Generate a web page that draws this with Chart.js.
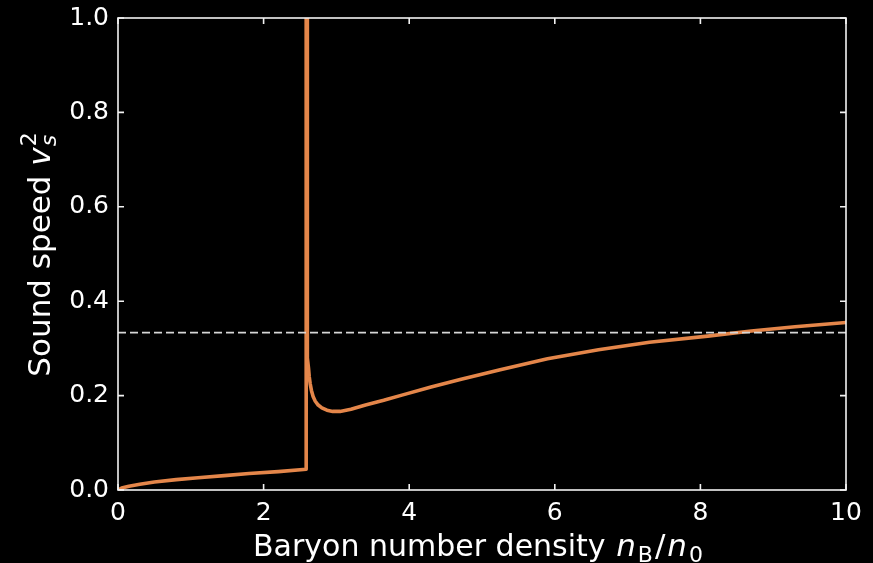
<!DOCTYPE html>
<html>
<head>
<meta charset="utf-8">
<script src="https://cdn.jsdelivr.net/npm/chart.js@4.4.1/dist/chart.umd.min.js"></script>
<style>
  html, body { margin: 0; padding: 0; background: #000; }
  #wrap { width: 873px; height: 563px; }
</style>
</head>
<body>
<div id="wrap"><canvas id="c" width="873" height="563"></canvas></div>
<script>
// Hadronic branch (below the transition density)
const lowDensity = [0, 0.05, 0.15, 0.3, 0.5, 0.8, 1.1, 1.5, 1.8, 2.2, 2.585];
const lowSound   = [0, 0.004, 0.008, 0.012, 0.017, 0.022, 0.026, 0.031, 0.035, 0.039, 0.044];

// Vertical jump at the transition
const jumpDensity = [2.585, 2.585, 2.597];
const jumpSound   = [0.044, 1.05, 1.05];

// High-density branch
const highDensity = [2.597, 2.597, 2.599, 2.603, 2.609, 2.617, 2.627, 2.640, 2.657, 2.68, 2.71, 2.75, 2.80, 2.87, 2.95, 3.05, 3.2, 3.4, 3.65, 3.9, 4.3, 4.7, 5.25, 5.9, 6.6, 7.3, 8.1, 8.7, 9.3, 10];
const highSound   = [1.05, 0.40, 0.35, 0.31, 0.28, 0.258, 0.240, 0.225, 0.211, 0.198, 0.188, 0.180, 0.174, 0.169, 0.1665, 0.1665, 0.171, 0.180, 0.190, 0.201, 0.218, 0.234, 0.255, 0.278, 0.297, 0.313, 0.326, 0.337, 0.346, 0.355];

// Conformal limit v_s^2 = 1/3
const conformalDensity = [0, 10];
const conformalSound   = [1 / 3, 1 / 3];

const xTickValues = [0, 2, 4, 6, 8, 10];
const yTickValues = [0, 0.2, 0.4, 0.6, 0.8, 1.0];

const curveDensity = lowDensity.concat(jumpDensity, highDensity);
const curveSound   = lowSound.concat(jumpSound, highSound);

const toPoints = (xs, ys) => xs.map((x, i) => ({ x: x, y: ys[i] }));

const FRAME = '#f2f2f2';
const TEXT = '#ffffff';
const FONT = "'DejaVu Sans', sans-serif";

const background = {
  id: 'background',
  beforeDraw(chart) {
    const ctx = chart.ctx;
    ctx.save();
    ctx.fillStyle = '#000';
    ctx.fillRect(0, 0, chart.width, chart.height);
    ctx.restore();
  }
};

// Box frame with inward ticks on all four sides
const frame = {
  id: 'frame',
  afterDatasetsDraw(chart) {
    const { ctx, chartArea: a, scales } = chart;
    const len = 6;
    ctx.save();
    ctx.strokeStyle = FRAME;
    ctx.lineWidth = 1.6;
    ctx.beginPath();
    xTickValues.forEach(v => {
      const px = scales.x.getPixelForValue(v);
      ctx.moveTo(px, a.bottom); ctx.lineTo(px, a.bottom - len);
      ctx.moveTo(px, a.top); ctx.lineTo(px, a.top + len);
    });
    yTickValues.forEach(v => {
      const py = scales.y.getPixelForValue(v);
      ctx.moveTo(a.left, py); ctx.lineTo(a.left + len, py);
      ctx.moveTo(a.right, py); ctx.lineTo(a.right - len, py);
    });
    ctx.stroke();
    ctx.strokeRect(a.left, a.top, a.right - a.left, a.bottom - a.top);
    ctx.restore();
  }
};

// Draw a run of text segments, each with its own style, vertical shift and trailing gap
function drawRuns(ctx, runs, x, y) {
  const widths = runs.map(r => { ctx.font = r.font; return ctx.measureText(r.text).width + (r.gap || 0); });
  const total = widths.reduce((s, w) => s + w, 0);
  let cx = x - total / 2;
  runs.forEach((r, i) => {
    ctx.font = r.font;
    ctx.fillText(r.text, cx, y + (r.dy || 0));
    cx += widths[i];
  });
}

const titles = {
  id: 'titles',
  afterDraw(chart) {
    const { ctx, chartArea: a } = chart;
    const size = 30;
    const mathSize = 31;
    const sub = 22;
    ctx.save();
    ctx.fillStyle = TEXT;
    ctx.textBaseline = 'alphabetic';
    ctx.textAlign = 'left';

    // x-axis title
    drawRuns(ctx, [
      { text: 'Baryon number density ', font: `${size}px ${FONT}`, gap: 1 },
      { text: 'n', font: `italic ${mathSize}px ${FONT}`, gap: 2 },
      { text: 'B', font: `${sub}px ${FONT}`, dy: 6, gap: 2 },
      { text: '/', font: `${mathSize}px ${FONT}`, gap: 2 },
      { text: 'n', font: `italic ${mathSize}px ${FONT}`, gap: 2 },
      { text: '0', font: `${sub}px ${FONT}`, dy: 6 }
    ], (a.left + a.right) / 2 - 4, 556);

    // y-axis title, rotated
    const ySize = 31;
    const ySub = 22;
    ctx.translate(50, (a.top + a.bottom) / 2);
    ctx.rotate(-Math.PI / 2);
    ctx.font = `${ySub}px ${FONT}`;
    const sW = ctx.measureText('s').width;
    const tW = ctx.measureText('2').width;
    ctx.font = `${ySize}px ${FONT}`;
    const mainW = ctx.measureText('Sound speed ').width;
    ctx.font = `italic ${ySize}px ${FONT}`;
    const vW = ctx.measureText('v').width;
    const total = mainW + vW + Math.max(sW, tW) + 2;
    let cx = -total / 2;
    ctx.font = `${ySize}px ${FONT}`;
    ctx.fillText('Sound speed ', cx, 0); cx += mainW;
    ctx.font = `italic ${ySize}px ${FONT}`;
    ctx.fillText('v', cx, 0); cx += vW + 1;
    ctx.font = `italic ${ySub}px ${FONT}`;
    ctx.fillText('s', cx, 6);
    ctx.font = `${ySub}px ${FONT}`;
    ctx.fillText('2', cx, -14);
    ctx.restore();
  }
};

new Chart(document.getElementById('c'), {
  type: 'scatter',
  data: {
    datasets: [
      {
        data: toPoints(conformalDensity, conformalSound),
        showLine: true,
        borderColor: '#d6d6d6',
        borderWidth: 1.8,
        borderDash: [8, 4],
        pointRadius: 0,
        clip: 0
      },
      {
        data: toPoints(curveDensity, curveSound),
        showLine: true,
        borderColor: '#e4864a',
        borderWidth: 3.6,
        pointRadius: 0,
        borderJoinStyle: 'round',
        borderCapStyle: 'round',
        clip: 0
      }
    ]
  },
  options: {
    responsive: false,
    animation: false,
    devicePixelRatio: 1,
    layout: { padding: { left: 0, right: 27, top: 18, bottom: 0 } },
    plugins: { legend: { display: false }, tooltip: { enabled: false } },
    scales: {
      x: {
        type: 'linear',
        min: 0, max: 10,
        afterBuildTicks: s => { s.ticks = xTickValues.map(v => ({ value: v })); },
        afterFit: s => { s.height = 73; s.paddingLeft = 0; s.paddingRight = 0; },
        grid: { display: false, drawTicks: false },
        border: { display: false },
        ticks: {
          color: TEXT, padding: 8,
          font: { family: FONT, size: 25 },
          callback: v => String(v)
        }
      },
      y: {
        type: 'linear',
        min: 0, max: 1,
        afterBuildTicks: s => { s.ticks = yTickValues.map(v => ({ value: v })); },
        afterFit: s => { s.width = 118; s.paddingTop = 0; s.paddingBottom = 0; },
        grid: { display: false, drawTicks: false },
        border: { display: false },
        ticks: {
          color: TEXT, padding: 9,
          font: { family: FONT, size: 25 },
          callback: v => Number(v).toFixed(1)
        }
      }
    }
  },
  plugins: [background, frame, titles]
});
</script>
</body>
</html>
